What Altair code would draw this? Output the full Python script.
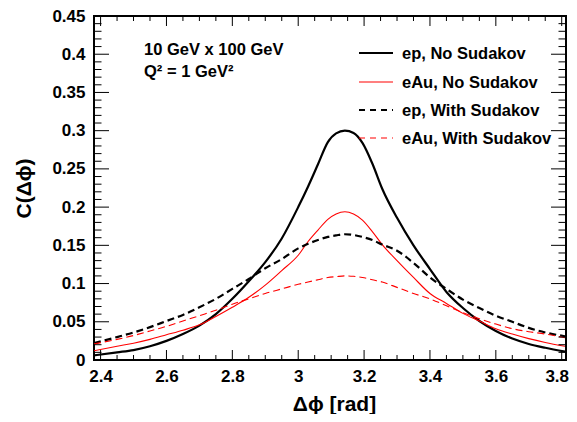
import altair as alt
import pandas as pd

# ---------------- data ----------------
x_vals = [2.38, 2.45, 2.5, 2.55, 2.6, 2.65, 2.7, 2.75, 2.8, 2.85, 2.9, 2.95, 3.0, 3.03, 3.06, 3.09, 3.115,
          3.1416, 3.168, 3.195, 3.225, 3.255, 3.3, 3.35, 3.4, 3.45, 3.5, 3.55, 3.6, 3.65, 3.7, 3.75, 3.81]

ep_no = [0.006, 0.010, 0.013, 0.018, 0.025, 0.034, 0.045, 0.060, 0.080, 0.103, 0.128, 0.159, 0.200, 0.227,
         0.256, 0.285, 0.2965, 0.300, 0.297, 0.284, 0.257, 0.224, 0.186, 0.150, 0.119, 0.089, 0.068, 0.051,
         0.038, 0.028, 0.021, 0.016, 0.011]
eau_no = [0.012, 0.018, 0.022, 0.027, 0.033, 0.039, 0.046, 0.057, 0.069, 0.082, 0.098, 0.117, 0.137, 0.155,
          0.170, 0.184, 0.191, 0.194, 0.191, 0.183, 0.168, 0.151, 0.130, 0.108, 0.087, 0.074, 0.061, 0.051,
          0.041, 0.034, 0.028, 0.023, 0.018]
ep_sud = [0.022, 0.030, 0.036, 0.043, 0.051, 0.059, 0.069, 0.080, 0.093, 0.106, 0.120, 0.132, 0.146, 0.152,
          0.157, 0.161, 0.163, 0.1645, 0.1635, 0.161, 0.157, 0.151, 0.143, 0.127, 0.108, 0.093, 0.079, 0.068,
          0.058, 0.050, 0.042, 0.036, 0.031]
eau_sud = [0.021, 0.027, 0.032, 0.038, 0.044, 0.051, 0.058, 0.065, 0.073, 0.080, 0.087, 0.093, 0.099, 0.102,
           0.105, 0.108, 0.109, 0.110, 0.1095, 0.108, 0.105, 0.102, 0.095, 0.087, 0.080, 0.071, 0.062, 0.054,
           0.047, 0.041, 0.037, 0.034, 0.029]

series_names = ["ep, No Sudakov", "eAu, No Sudakov", "ep, With Sudakov", "eAu, With Sudakov"]
annotations = ["10 GeV x 100 GeV", "Q\u00b2 = 1 GeV\u00b2"]

x_major = [2.4, 2.6, 2.8, 3.0, 3.2, 3.4, 3.6, 3.8]
x_minor = [2.45, 2.5, 2.55, 2.65, 2.7, 2.75, 2.85, 2.9, 2.95, 3.05, 3.1, 3.15,
           3.25, 3.3, 3.35, 3.45, 3.5, 3.55, 3.65, 3.7, 3.75]
y_major = [0.0, 0.05, 0.1, 0.15, 0.2, 0.25, 0.3, 0.35, 0.4, 0.45]
y_minor = [0.01, 0.02, 0.03, 0.04, 0.06, 0.07, 0.08, 0.09, 0.11, 0.12, 0.13, 0.14,
           0.16, 0.17, 0.18, 0.19, 0.21, 0.22, 0.23, 0.24, 0.26, 0.27, 0.28, 0.29,
           0.31, 0.32, 0.33, 0.34, 0.36, 0.37, 0.38, 0.39, 0.41, 0.42, 0.43, 0.44]

# ---------------- styling ----------------
W, H = 472, 344
FONT = "Liberation Sans, Arial, Helvetica, DejaVu Sans"
colors = ["black", "#ff0000", "black", "#ff0000"]
widths = [2.2, 1.1, 2.2, 1.1]
dashes = [None, None, [7, 4], [7, 4]]
legend_y = [37, 66, 94, 122]

xscale = alt.Scale(domain=[2.38, 3.813], nice=False, zero=False)
yscale = alt.Scale(domain=[0, 0.45], nice=False, zero=False)

xaxis = alt.Axis(values=x_major, format="~g", ticks=False, tickSize=0, domain=False, grid=False,
                 labelFont=FONT, labelFontSize=17, labelFontWeight="bold", labelColor="black",
                 labelPadding=8, labelFlush=False, labelOverlap=False,
                 labelOffset={"condition": {"test": "datum.value > 3.7", "value": -5}, "value": 0},
                 title="\u0394\u03d5 [rad]", titleFont=FONT, titleFontSize=21, titleFontWeight="bold",
                 titleColor="black", titleX=240, titleY=44, titleAlign="center", titleBaseline="middle")
yaxis = alt.Axis(values=y_major, format="~g", ticks=False, tickSize=0, domain=False, grid=False,
                 labelFont=FONT, labelFontSize=17, labelFontWeight="bold", labelColor="black",
                 labelPadding=9, labelFlush=False, labelOverlap=False,
                 title="C(\u0394\u03d5)", titleFont=FONT, titleFontSize=21, titleFontWeight="bold",
                 titleColor="black", titleX=-70, titleY=172, titleAngle=270,
                 titleAlign="center", titleBaseline="middle")


def X():
    return alt.X("x:Q", scale=xscale, axis=xaxis)


def Y():
    return alt.Y("y:Q", scale=yscale, axis=yaxis)


layers = []

# curves
for name, ys, c, w, d in zip(series_names, [ep_no, eau_no, ep_sud, eau_sud], colors, widths, dashes):
    df = pd.DataFrame({"x": x_vals, "y": ys})
    kw = dict(color=c, strokeWidth=w, interpolate="monotone", clip=True)
    if d is not None:
        kw["strokeDash"] = d
    layers.append(alt.Chart(df).mark_line(**kw).encode(x=X(), y=Y()))

# inward ticks (ROOT style) on all four sides
for vals, ln in [(x_major, 10), (x_minor, 5)]:
    tdf = pd.DataFrame({"x": vals})
    layers.append(alt.Chart(tdf).mark_rule(color="black", strokeWidth=1).encode(
        x=X(), y=alt.value(H), y2=alt.value(H - ln)))
    layers.append(alt.Chart(tdf).mark_rule(color="black", strokeWidth=1).encode(
        x=X(), y=alt.value(0), y2=alt.value(ln)))
for vals, ln in [(y_major, 15), (y_minor, 7.5)]:
    tdf = pd.DataFrame({"y": vals})
    layers.append(alt.Chart(tdf).mark_rule(color="black", strokeWidth=1).encode(
        y=Y(), x=alt.value(0), x2=alt.value(ln)))
    layers.append(alt.Chart(tdf).mark_rule(color="black", strokeWidth=1).encode(
        y=Y(), x=alt.value(W), x2=alt.value(W - ln)))

# annotation text
for txt, ty in zip(annotations, [39, 61]):
    layers.append(alt.Chart(pd.DataFrame({"t": [txt]})).mark_text(
        align="left", baseline="alphabetic", font=FONT, fontSize=16.5, fontWeight="bold", color="black"
    ).encode(x=alt.value(50), y=alt.value(ty), text="t:N"))

# legend
for name, c, w, d, ly in zip(series_names, colors, widths, dashes, legend_y):
    ldf = pd.DataFrame({"s": [name]})
    kw = dict(color=c, strokeWidth=w)
    if d is not None:
        kw["strokeDash"] = [6, 5]
    layers.append(alt.Chart(ldf).mark_rule(**kw).encode(
        x=alt.value(265), x2=alt.value(299), y=alt.value(ly)))
    layers.append(alt.Chart(ldf).mark_text(
        align="left", baseline="middle", font=FONT, fontSize=16.5, fontWeight="bold", color="black"
    ).encode(x=alt.value(308), y=alt.value(ly + 1), text="s:N"))

chart = alt.layer(*layers).properties(
    width=W, height=H,
    autosize=alt.AutoSizeParams(type="none"),
    padding={"left": 86, "top": 8, "right": 3, "bottom": 54},
    background="white",
).configure_view(stroke="black", strokeWidth=2)

chart.save("out.html", embed_options={"renderer": "svg", "actions": False})
